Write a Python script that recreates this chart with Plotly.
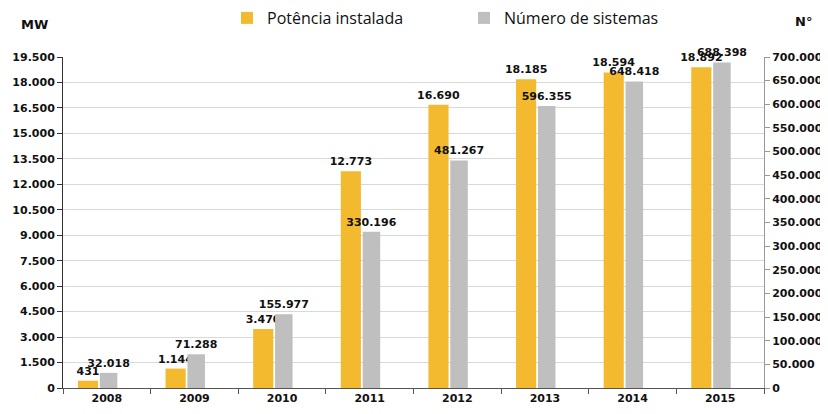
import plotly.graph_objects as go

years = ["2008", "2009", "2010", "2011", "2012", "2013", "2014", "2015"]
potencia_mw = [431, 1144, 3470, 12773, 16690, 18185, 18594, 18892]
num_sistemas = [32018, 71288, 155977, 330196, 481267, 596355, 648418, 688398]
left_ticks = list(range(0, 19501, 1500))
right_ticks = list(range(0, 700001, 50000))


def fmt(v):
    return f"{v:,}".replace(",", ".")


YELLOW = "#F3BA2F"
GRAY = "#BFBFBF"
NUMFONT = "DejaVu Sans"
LEGFONT = "Open Sans"

labelfont = dict(family=NUMFONT, size=11, color="#111111", weight=700)

fig = go.Figure()
fig.add_trace(go.Bar(
    x=years, y=potencia_mw, name="Potência instalada",
    marker=dict(color=YELLOW, line=dict(width=0)),
    width=0.23, offset=-0.33,
    text=[fmt(v) for v in potencia_mw], textposition="outside",
    textfont=labelfont,
    constraintext="none", cliponaxis=False, yaxis="y",
))
fig.add_trace(go.Bar(
    x=years, y=num_sistemas, name="Número de sistemas",
    marker=dict(color=GRAY, line=dict(width=0)),
    width=0.2, offset=-0.08,
    text=[fmt(v) for v in num_sistemas], textposition="outside",
    textfont=labelfont,
    constraintext="none", cliponaxis=False, yaxis="y2",
))

tickfont = dict(family=NUMFONT, size=11, color="#111111", weight=700)

# the page body adds an 8 px offset; margins compensate for it
fig.update_layout(
    width=828, height=414,
    margin=dict(l=55, r=72, t=49, b=34),
    plot_bgcolor="white", paper_bgcolor="white",
    barmode="overlay",
    showlegend=True,
    legend=dict(
        orientation="h", xref="container", yref="container",
        x=219 / 828, xanchor="left", y=1 - 10 / 414, yanchor="middle",
        font=dict(family=LEGFONT, size=16, color="#111111"),
        entrywidth=192, entrywidthmode="pixels",
        bgcolor="rgba(0,0,0,0)",
    ),
    xaxis=dict(
        type="category", tickson="boundaries", ticks="outside", ticklen=5,
        tickcolor="#555555", showline=True, linecolor="#555555", linewidth=1,
        tickfont=tickfont, showgrid=False, automargin=False,
    ),
    yaxis=dict(
        range=[0, 19500], tickvals=left_ticks, ticktext=[fmt(v) for v in left_ticks],
        ticks="outside", ticklen=5, tickcolor="#333333",
        showline=True, linecolor="#333333", linewidth=1,
        showgrid=True, gridcolor="#D9D9D9", gridwidth=1, zeroline=False,
        tickfont=tickfont, automargin=False,
    ),
    yaxis2=dict(
        range=[0, 700000], tickvals=right_ticks, ticktext=[fmt(v) for v in right_ticks],
        overlaying="y", side="right",
        ticks="outside", ticklen=5, tickcolor="#999999",
        showline=True, linecolor="#999999", linewidth=1,
        showgrid=False, zeroline=False,
        tickfont=tickfont, automargin=False,
    ),
    annotations=[
        dict(text="MW", xref="paper", yref="paper", x=-0.041, y=1.097,
             xanchor="center", yanchor="middle", showarrow=False,
             font=dict(family=NUMFONT, size=13, color="#111111", weight=700)),
        dict(text="N°", xref="paper", yref="paper", x=1.056, y=1.106,
             xanchor="center", yanchor="middle", showarrow=False,
             font=dict(family=NUMFONT, size=13, color="#111111", weight=700)),
    ],
)

fig.write_html("out.html")
